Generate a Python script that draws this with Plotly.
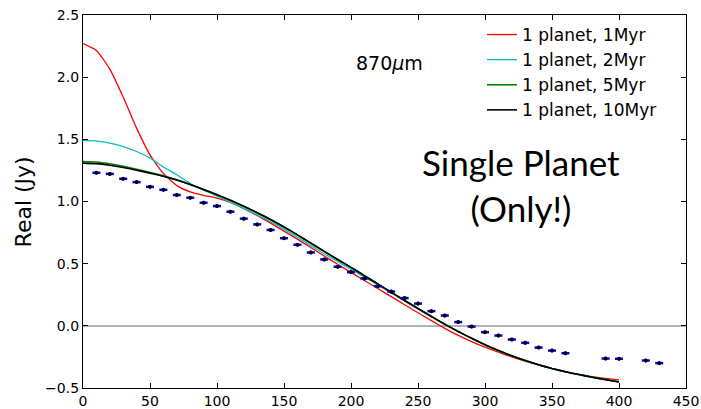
import plotly.graph_objects as go

# Model visibility curves, sampled every 10 klambda
uv_model = list(range(0, 401, 10))

real_1myr = [2.270, 2.215, 2.065, 1.840, 1.590, 1.375, 1.225, 1.128, 1.078, 1.050,
             1.028, 0.993, 0.943, 0.887, 0.826, 0.762, 0.697, 0.630, 0.562, 0.495,
             0.430, 0.365, 0.300, 0.235, 0.170, 0.105, 0.042, -0.020, -0.077, -0.127,
             -0.172, -0.212, -0.250, -0.284, -0.316, -0.344, -0.369, -0.391, -0.409,
             -0.423, -0.435]

real_2myr = [1.491, 1.486, 1.470, 1.442, 1.402, 1.350, 1.277, 1.215, 1.145, 1.092,
             1.042, 0.995, 0.945, 0.893, 0.838, 0.778, 0.713, 0.645, 0.580, 0.517,
             0.455, 0.392, 0.328, 0.264, 0.200, 0.136, 0.073, 0.011, -0.047, -0.102,
             -0.153, -0.200, -0.242, -0.280, -0.314, -0.344, -0.370, -0.393, -0.414,
             -0.433, -0.452]

real_5myr = [1.322, 1.318, 1.304, 1.284, 1.260, 1.234, 1.206, 1.174, 1.137, 1.097,
             1.055, 1.010, 0.962, 0.910, 0.855, 0.795, 0.732, 0.665, 0.599, 0.534,
             0.470, 0.404, 0.337, 0.270, 0.204, 0.139, 0.075, 0.013, -0.045, -0.100,
             -0.152, -0.199, -0.241, -0.279, -0.313, -0.343, -0.369, -0.392, -0.413,
             -0.432, -0.450]

real_10myr = [1.309, 1.305, 1.292, 1.274, 1.252, 1.228, 1.203, 1.172, 1.136, 1.097,
              1.055, 1.010, 0.962, 0.910, 0.855, 0.795, 0.732, 0.665, 0.599, 0.534,
              0.470, 0.404, 0.337, 0.270, 0.204, 0.139, 0.075, 0.013, -0.045, -0.100,
              -0.152, -0.199, -0.241, -0.279, -0.313, -0.343, -0.369, -0.392, -0.413,
              -0.433, -0.452]

# Observed, binned visibilities
uv_obs = list(range(10, 361, 10)) + [390, 400, 420, 430]
real_obs = [1.231, 1.222, 1.183, 1.156, 1.118, 1.094, 1.052, 1.030, 0.990, 0.963,
            0.918, 0.862, 0.816, 0.771, 0.705, 0.652, 0.590, 0.534, 0.475, 0.432,
            0.381, 0.319, 0.276, 0.223, 0.179, 0.118, 0.083, 0.030, -0.006, -0.051,
            -0.078, -0.110, -0.137, -0.175, -0.199, -0.220,
            -0.263, -0.265, -0.279, -0.300]
real_obs_err = [0.015] * len(uv_obs)
uv_obs_err = [3] * len(uv_obs)

series = [
    ("1 planet, 1Myr", real_1myr, "#ff0000", 1.3),
    ("1 planet, 2Myr", real_2myr, "#00bfbf", 1.3),
    ("1 planet, 5Myr", real_5myr, "#008000", 1.6),
    ("1 planet, 10Myr", real_10myr, "#000000", 1.6),
]

fig = go.Figure()

for name, vals, color, width in series:
    fig.add_trace(go.Scatter(
        x=uv_model, y=vals, mode="lines", name=name,
        line=dict(color=color, width=width, shape="spline", smoothing=0.5),
    ))

fig.add_trace(go.Scatter(
    x=uv_obs, y=real_obs, mode="markers", showlegend=False,
    marker=dict(color="#000000", size=4, symbol="circle"),
    error_x=dict(type="data", array=uv_obs_err, color="#0000ff", thickness=2.5, width=0),
    error_y=dict(type="data", array=real_obs_err, color="#0000ff", thickness=1.5, width=0),
))

axis_common = dict(
    showline=True, linecolor="#000000", linewidth=1.2, mirror="ticks",
    ticks="inside", ticklen=5, tickwidth=1, tickcolor="#000000",
    showgrid=False, automargin=False,
    tickfont=dict(family="DejaVu Sans", size=14, color="#000000"),
)

fig.update_xaxes(range=[0, 450], dtick=50, tick0=0, zeroline=False, **axis_common)
fig.update_yaxes(range=[-0.5, 2.5], dtick=0.5, tick0=0, tickformat=".1f",
                 zeroline=True, zerolinecolor="#b4b4b4", zerolinewidth=2,
                 **axis_common)

fig.add_annotation(
    text="Real (Jy)", textangle=-90, xref="paper", yref="paper",
    x=-0.098, y=0.5, xanchor="center", yanchor="middle", showarrow=False,
    font=dict(family="DejaVu Sans", size=22, color="#000000"),
)
fig.add_annotation(
    text="870<i>μ</i>m", xref="paper", yref="paper",
    x=(389 - 83) / 603, y=(388 - 63) / 373, xanchor="center", yanchor="middle",
    showarrow=False, font=dict(family="DejaVu Sans", size=19, color="#000000"),
)
fig.add_annotation(
    text="Single Planet<br>(Only!)", xref="paper", yref="paper",
    x=(521 - 83) / 603, y=(388 - 185) / 373, xanchor="center", yanchor="middle",
    showarrow=False, align="center",
    font=dict(family="Lato", size=35, color="#000000"),
)

fig.update_layout(
    width=701, height=409,
    margin=dict(l=83, r=15, t=15, b=21),
    paper_bgcolor="#ffffff", plot_bgcolor="#ffffff",
    showlegend=True,
    legend=dict(
        x=(482 - 83) / 603, y=(388 - 17) / 373, xanchor="left", yanchor="top",
        bgcolor="rgba(0,0,0,0)", borderwidth=0,
        font=dict(family="DejaVu Sans", size=17, color="#000000"),
        tracegroupgap=0,
    ),
)

fig.write_html("out.html")
